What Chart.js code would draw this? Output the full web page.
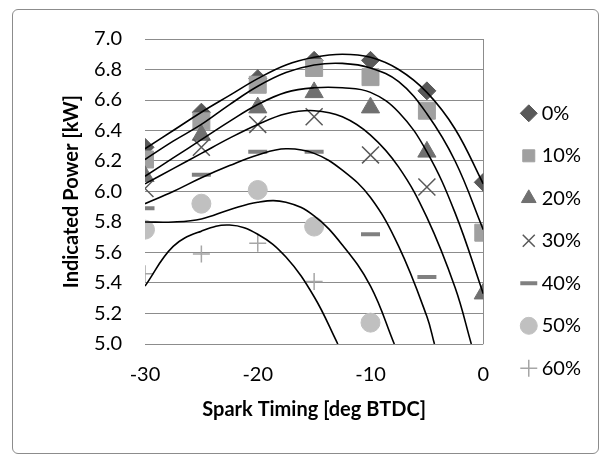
<!DOCTYPE html>
<html>
<head>
<meta charset="utf-8">
<script src="https://cdn.jsdelivr.net/npm/chart.js@4.4.1/dist/chart.umd.min.js"></script>
<style>
  html, body { margin: 0; padding: 0; background: #fff; }
  #box { position: absolute; left: 12px; top: 9px; width: 585px; height: 443px; border: 1px solid #8c8c8c; border-radius: 6px; }
  #myChart { position: absolute; left: 0; top: 0; }
</style>
</head>
<body>
<div id="box"></div>
<canvas id="myChart" width="608" height="463"></canvas>
<script>
// measured points
const spark = [-30, -25, -20, -15, -10, -5, 0];
const labels = ['0%', '10%', '20%', '30%', '40%', '50%', '60%'];
const p0  = [6.29, 6.52, 6.74, 6.86, 6.86, 6.66, 6.06];
const p10 = [6.21, 6.46, 6.70, 6.81, 6.75, 6.53, 5.73];
const p20 = [6.10, 6.37, 6.55, 6.65, 6.55, 6.26, 5.33];
const p30 = [6.02, 6.29, 6.44, 6.49, 6.24, 6.03];
const p40 = [5.89, 6.11, 6.26, 6.26, 5.72, 5.44];
const p50 = [5.75, 5.92, 6.01, 5.77, 5.14];
const p60 = [5.46, 5.59, 5.66, 5.41];

// trend curves
const fitX   = [-30, -27.5, -25, -22.5, -20, -17.5, -15, -12.5, -10, -7.5, -5, -2.5, 0];
const fit0   = [6.28, 6.40, 6.52, 6.63, 6.74, 6.83, 6.88, 6.90, 6.88, 6.80, 6.65, 6.41, 6.05];
const fit10  = [6.21, 6.33, 6.44, 6.57, 6.69, 6.78, 6.83, 6.84, 6.81, 6.72, 6.51, 6.20, 5.75];
const fit20  = [6.10, 6.22, 6.34, 6.46, 6.57, 6.65, 6.68, 6.68, 6.65, 6.52, 6.26, 5.86, 5.33];
const fit30X = [-30, -27.5, -25, -22.5, -20, -17.5, -15, -12.5, -10, -7.5, -5, -2.5, -1.06];
const fit30  = [6.05, 6.15, 6.25, 6.35, 6.44, 6.51, 6.53, 6.49, 6.37, 6.16, 5.83, 5.37, 5.0];
const fit40X = [-30, -27.5, -25, -22.5, -20, -17.5, -15, -12.5, -10, -7.5, -5, -4.33];
const fit40  = [5.92, 6.00, 6.09, 6.17, 6.24, 6.28, 6.25, 6.14, 5.96, 5.64, 5.18, 5.0];
const fit50X = [-30, -27.5, -25, -22.5, -20, -17.5, -15, -12.5, -10, -7.89];
const fit50  = [5.80, 5.80, 5.82, 5.88, 5.93, 5.93, 5.84, 5.65, 5.38, 5.0];
const fit60X = [-30, -27.5, -25, -22.5, -20, -17.5, -15, -12.9];
const fit60  = [5.38, 5.64, 5.74, 5.78, 5.72, 5.57, 5.31, 5.0];

const yTicks = [5.0, 5.2, 5.4, 5.6, 5.8, 6.0, 6.2, 6.4, 6.6, 6.8, 7.0];
const xTicks = [-30, -20, -10, 0];

Chart.defaults.font.family = 'Lato';
Chart.defaults.color = '#000';

function pts(xs, ys) {
    return ys.map((v, i) => ({x: xs[i], y: v}));
}

// marker look per series
const looks = [
    {style: 'rectRot',  r: 9,    bg: '#595959', bc: '#595959', bw: 1},
    {style: 'rect',     r: 12,   bg: '#a0a0a0', bc: '#a0a0a0', bw: 1},
    {style: 'triangle', r: 10.5, bg: '#707070', bc: '#707070', bw: 1},
    {style: 'crossRot', r: 12,   bg: '#595959', bc: '#595959', bw: 1.5},
    {style: 'line',     r: 9.5,  bg: '#808080', bc: '#808080', bw: 4},
    {style: 'circle',   r: 9.5,  bg: '#c0c0c0', bc: '#c0c0c0', bw: 1},
    {style: 'cross',    r: 8.5,  bg: '#a6a6a6', bc: '#a6a6a6', bw: 1.5}
];
const series = [p0, p10, p20, p30, p40, p50, p60];
const fits = [[fitX, fit0], [fitX, fit10], [fitX, fit20], [fit30X, fit30], [fit40X, fit40], [fit50X, fit50], [fit60X, fit60]];

const datasets = [];
series.forEach((s, i) => {
    const lk = looks[i];
    datasets.push({
        label: labels[i],
        data: pts(spark, s),
        pointStyle: lk.style,
        pointRadius: lk.r,
        pointHoverRadius: lk.r,
        backgroundColor: lk.bg,
        borderColor: lk.bc,
        borderWidth: lk.bw,
        order: 7 - i
    });
});
fits.forEach((f, i) => {
    datasets.push({
        label: 'fit' + labels[i],
        data: pts(f[0], f[1]),
        showLine: true,
        pointRadius: 0,
        borderColor: '#000',
        borderWidth: 1.6,
        tension: 0.4,
        fill: false,
        order: 0
    });
});

const ctx = document.getElementById('myChart');
new Chart(ctx, {
    type: 'scatter',
    data: {datasets: datasets},
    options: {
        responsive: false,
        animation: false,
        layout: {padding: {top: 39, left: 12, right: 17, bottom: 0}},
        plugins: {
            tooltip: {enabled: false},
            legend: {
                position: 'right',
                align: 'start',
                title: {display: true, text: '', font: {size: 1, lineHeight: 1}, padding: {top: 40.8, bottom: 0}},
                labels: {
                    usePointStyle: true,
                    boxWidth: 6,
                    boxHeight: 12,
                    padding: 22.5,
                    font: {size: 20},
                    color: '#000',
                    filter: item => item.datasetIndex < 7,
                    sort: (a, b) => a.datasetIndex - b.datasetIndex
                }
            }
        },
        scales: {
            x: {
                type: 'linear',
                min: xTicks[0],
                max: xTicks[xTicks.length - 1],
                afterBuildTicks: s => { s.ticks = xTicks.map(v => ({value: v})); },
                ticks: {padding: 19, font: {size: 20}, color: '#000'},
                grid: {drawTicks: false, lineWidth: 1, color: c => (c.tick && c.tick.value === 0) ? '#8c8c8c' : 'rgba(0,0,0,0)'},
                border: {display: false},
                title: {display: true, text: 'Spark Timing [deg BTDC]', color: '#000', font: {size: 20, weight: 'bold'}, padding: {top: 0, bottom: 41}},
                afterFit: s => { s.height = 119; }
            },
            y: {
                min: yTicks[0],
                max: yTicks[yTicks.length - 1],
                afterBuildTicks: s => { s.ticks = yTicks.map(v => ({value: v})); },
                ticks: {padding: 23, font: {size: 20}, color: '#000', callback: v => v.toFixed(1)},
                grid: {drawTicks: false, lineWidth: 1, color: '#8c8c8c'},
                border: {display: false},
                title: {display: true, text: 'Indicated Power [kW]', color: '#000', font: {size: 20, weight: 'bold'}, padding: {top: 48, bottom: 0}},
                afterFit: s => { s.width = 133; }
            },
            yR: {
                position: 'right',
                display: true,
                grid: {display: false},
                ticks: {display: false},
                border: {display: false},
                afterFit: s => { s.width = 20; }
            }
        }
    }
});
</script>
</body>
</html>
